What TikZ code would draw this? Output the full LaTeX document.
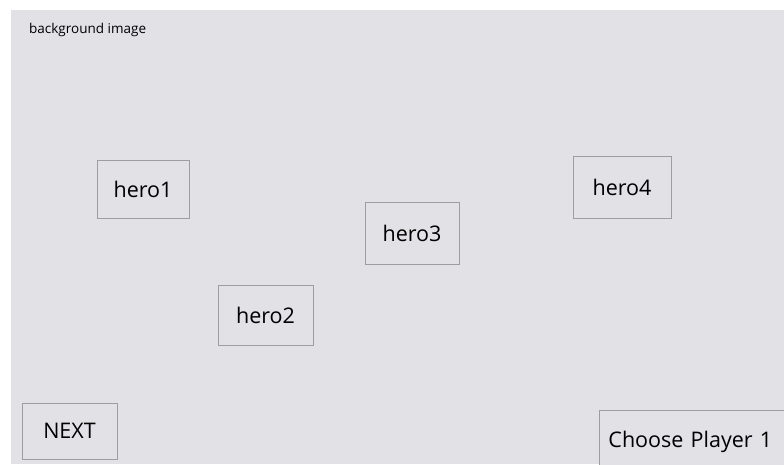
\documentclass[tikz,border=0pt]{standalone}
\usepackage{fontspec}
\setmainfont{Open Sans}
\usetikzlibrary{positioning}

\tikzset{
  herobox/.style={draw=black!38,line width=0.9pt,fill=bgcol,inner sep=0pt,
    font=\fontsize{21.5}{24}\selectfont},
}
\definecolor{bgcol}{HTML}{E1E1E6}

\begin{document}
\begin{tikzpicture}[x=1pt,y=-1pt]
    \useasboundingbox (0,0) rectangle (784,464);
    % --- screen background
    \fill[bgcol] (11,10) rectangle (784,464);
    \node[anchor=base west,font=\fontsize{13.5}{15}\selectfont,inner sep=0pt] (bglabel) at (29,33) {background image};
    % --- heroes
    \node[herobox,minimum width=92,minimum height=58] (hero1) at (143,189) {hero1};
    \node[herobox,minimum width=95,minimum height=60] (hero2) at (265.5,315) {hero2};
    \node[herobox,minimum width=94,minimum height=62] (hero3) at (412,233) {hero3};
    \node[herobox,minimum width=98,minimum height=62] (hero4) at (622,187) {hero4};
    % --- buttons
    \node[herobox,minimum width=95,minimum height=56] (next) at (69.5,431) {NEXT};
    \node[herobox,anchor=north west,text width=182,inner xsep=9,align=left,
      minimum height=62] (choose) at (599,410) {Choose Player 1};
  \end{tikzpicture}
\end{document}
